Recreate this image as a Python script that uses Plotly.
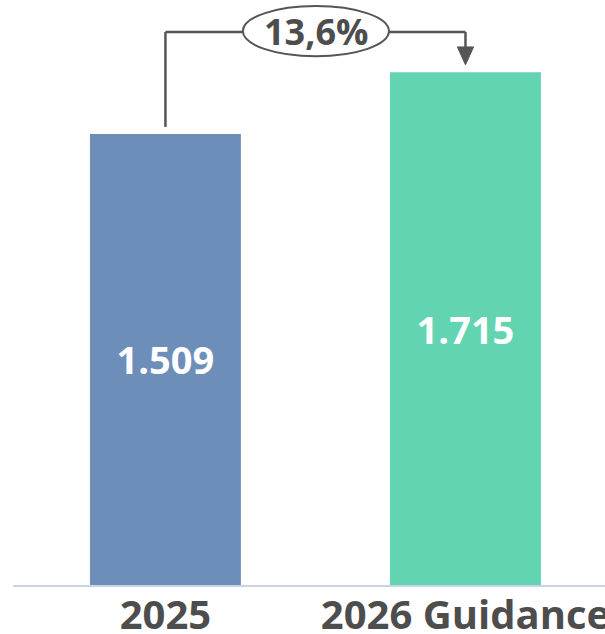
import plotly.graph_objects as go

categories = ['2025', '2026 Guidance']
values = [1509, 1715]
value_labels = ['1.509', '1.715']
growth_label = '13,6%'
bar_colors = ['#6e8eba', '#62d4b1']

fig = go.Figure()

fig.add_trace(
    go.Bar(
        x=[0, 1],
        y=values,
        width=0.503,
        marker=dict(color=bar_colors, line=dict(width=0)),
        text=value_labels,
        textposition='inside',
        insidetextanchor='middle',
        textfont=dict(color='white', size=38, family='Open Sans', weight='bold'),
        hoverinfo='skip',
    )
)

# growth bracket (data coordinates)
px = 585 / 1957  # pixels per unit
y_line = 1850
grey = '#555555'
shapes = [
    dict(type='line', xref='x', yref='y', x0=0, x1=0, y0=values[0] + 7 / px, y1=y_line,
         line=dict(color=grey, width=2.5)),
    dict(type='line', xref='x', yref='y', x0=0, x1=0.258, y0=y_line, y1=y_line,
         line=dict(color=grey, width=2.5)),
    dict(type='line', xref='x', yref='y', x0=0.745, x1=1, y0=y_line, y1=y_line,
         line=dict(color=grey, width=2.5)),
    dict(type='line', xref='x', yref='y', x0=1, x1=1, y0=y_line, y1=1797,
         line=dict(color=grey, width=2.5)),
    dict(type='path', xref='x', yref='y',
         path='M 0.973 1800 L 1.027 1800 L 1 1740 Z',
         fillcolor=grey, line=dict(color=grey, width=1)),
    dict(type='circle', xref='x', yref='y', x0=0.258, x1=0.745, y0=1769, y1=1937,
         fillcolor='white', line=dict(color=grey, width=2)),
]

fig.add_annotation(
    x=0.5015, y=y_line, xref='x', yref='y',
    text=growth_label, showarrow=False,
    font=dict(size=36, color='#4d4d4d', family='Open Sans', weight='bold'),
)

fig.update_layout(
    width=605,
    height=634,
    template='none',
    paper_bgcolor='white',
    plot_bgcolor='white',
    margin=dict(l=13, r=0, t=0, b=49),
    showlegend=False,
    shapes=shapes,
    xaxis=dict(
        range=[-0.508, 1.465],
        tickvals=[0, 1],
        ticktext=categories,
        showgrid=False,
        zeroline=False,
        showline=True,
        linecolor='#c8d3e3',
        linewidth=2,
        ticks='',
        automargin=False,
        ticklabeloverflow='allow',
        ticklabelstandoff=-6,
        tickfont=dict(size=40, color='#4d4d4d', family='Open Sans', weight='bold'),
    ),
    yaxis=dict(
        range=[0, 1957],
        visible=False,
        automargin=False,
    ),
)

fig.write_html(
    'out.html',
    config=dict(displayModeBar=False),
    post_script="document.body.style.margin='0';document.body.style.overflow='hidden';",
)
